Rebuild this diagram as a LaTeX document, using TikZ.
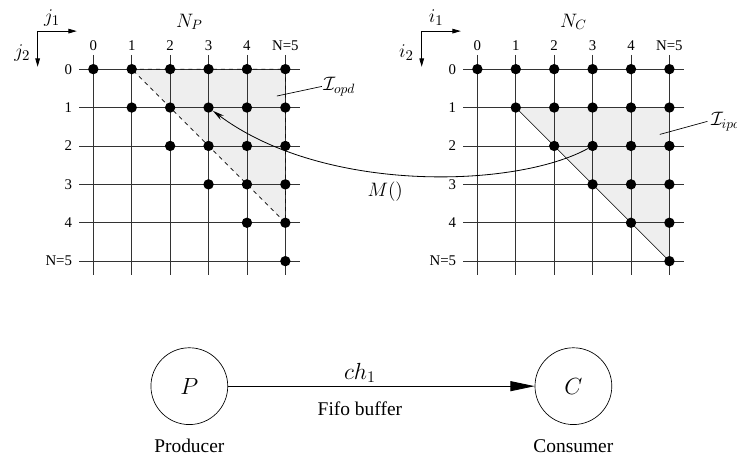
\documentclass[tikz,border=0pt]{standalone}
\usepackage[no-math]{fontspec}
\setmainfont{Liberation Serif}
\usepackage{tikz}
\usetikzlibrary{arrows.meta,positioning}
\definecolor{domfill}{HTML}{eeeeee}

\begin{document}
\begin{tikzpicture}[x=1cm,y=-1cm,
  font=\fontsize{11}{13}\selectfont,
  gridline/.style={line width=0.6pt, black!80},
  dot/.style={circle, fill=black, inner sep=0pt, minimum size=0.27cm},
  proc/.style={circle, draw, line width=0.5pt, minimum size=2cm, inner sep=0pt, font=\LARGE},
  axis/.style={-{Triangle[length=0.22cm,width=0.12cm]}, line width=0.6pt},
  axlabel/.style={font=\fontsize{15}{17}\selectfont},
  leader/.style={line width=0.5pt}]
  \useasboundingbox (-2.43,-1.8) rectangle (16.76,10.05);

  % the two domains: output (left) and input (right)
  \fill[domfill] (1,0) -- (5,0) -- (5,4) -- cycle;
  \fill[domfill] (11,1) -- (15,1) -- (15,5) -- cycle;

  \foreach \dx/\name/\ax in {0/P/j, 10/C/i}{
    \foreach \k in {0,...,5}{
      \draw[gridline] (\dx-0.37,\k) -- (\dx+5.37,\k);
      \draw[gridline] (\dx+\k,-0.37) -- (\dx+\k,5.37);
    }
    \foreach \k in {0,...,4}{
      \node at (\dx+\k,-0.61) {\k};
      \node[anchor=east] at (\dx-0.43,\k) {\k};
    }
    \node at (\dx+5,-0.61) {N=5};
    \node[anchor=east] at (\dx-0.43,5) {N=5};
    \node[font=\Large] at (\dx+2.5,-1.23) {$N_\name$};
    % index axes
    \coordinate (\ax-o) at (\dx-1.45,-0.99);
    \coordinate (\ax-h) at (\dx-0.43,-0.99);
    \coordinate (\ax-v) at (\dx-1.45,-0.06);
    \draw[axis] (\ax-o) -- (\ax-h);
    \draw[axis] (\ax-o) -- (\ax-v);
    \node[axlabel] at (\dx-1.075,-1.33) {$\ax_1$};
    \node[axlabel] at (\dx-1.85,-0.42) {$\ax_2$};
  }

  \draw[dashed, line width=0.5pt] (1,0) -- (5,0) -- (5,4) -- cycle;
  \draw[line width=0.5pt] (11,1) -- (15,5);

  \foreach \dx/\pre in {0/p, 10/c}{
    \foreach \c in {0,...,5}{
      \foreach \r in {0,...,\c}{
        \node[dot] (\pre-\c-\r) at (\dx+\c,\r) {};
      }
    }
  }

  % domain labels
  \coordinate (opd-in) at (4.78,0.7);
  \node[anchor=west, inner sep=1pt, font=\Large] (opd) at (5.95,0.45) {$\mathcal{I}_{opd}$};
  \draw[leader] (opd-in) -- (opd.west);
  \coordinate (ipd-in) at (14.75,1.7);
  \node[anchor=west, inner sep=2.5pt, font=\Large] (ipd) at (15.99,1.36) {$\mathcal{I}_{ipd}$};
  \draw[leader] (ipd-in) -- (ipd.west);

  % mapping
  \draw[line width=0.6pt, -{Stealth[length=0.3cm,width=0.14cm]}] (c-3-2) .. controls (11,3.1) and (6,3.25) .. (p-3-1);
  \node[font=\Large] (map) at (7.6,3.2) {$M()$};

  % process network
  \node[proc] (P) at (2.5,8.255) {$P$};
  \node[proc] (C) at (12.5,8.255) {$C$};
  \node[below=0.25cm of P, font=\Large] (prod) {Producer};
  \node[below=0.25cm of C, font=\Large] (cons) {Consumer};
  \draw[line width=0.6pt, -{Triangle[length=0.63cm,width=0.26cm]}] (P) -- (C)
    node[pos=0.43, yshift=0.34cm, font=\LARGE] {$ch_1$}
    node[pos=0.43, yshift=-0.6cm, font=\Large] {Fifo buffer};
\end{tikzpicture}
\end{document}
